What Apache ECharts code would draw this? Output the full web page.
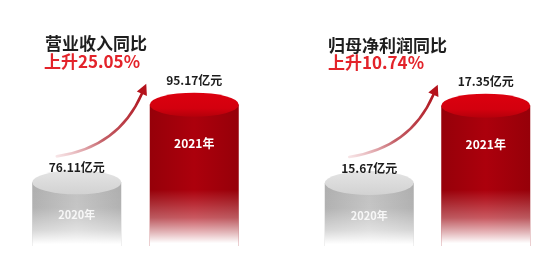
<!DOCTYPE html>
<html>
<head>
<meta charset="utf-8">
<script src="https://cdn.jsdelivr.net/npm/echarts@6/dist/echarts.min.js"></script>
<style>
html,body{margin:0;padding:0;background:#fff;}
#c{width:550px;height:268px;}
</style>
</head>
<body>
<div id="c"></div>
<script>
// ---- data ----
const categories = ['2020年', '2021年'];
const revenue = [76.11, 95.17];          // 营业收入 (亿元)
const netProfit = [15.67, 17.35];        // 归母净利润 (亿元)
const panelTitles = ['营业收入同比', '归母净利润同比'];
const growthTexts = ['上升25.05%', '上升10.74%'];
const unit = '亿元';

// ---- styles ----
const FONT = '"Noto Sans CJK SC", "Noto Sans", sans-serif';
const BW = 89, EH = 24;
const grad = echarts.graphic.LinearGradient;
const bodyColors = [
  new grad(0, 0, 1, 0, [{offset: 0, color: '#aeaeae'}, {offset: 0.5, color: '#c2c2c2'}, {offset: 1, color: '#aeaeae'}]),
  new grad(0, 0, 1, 0, [{offset: 0, color: '#960009'}, {offset: 0.5, color: '#ac000c'}, {offset: 1, color: '#960009'}])
];
const fadeColors = [
  new grad(0, 0, 0, 1, [{offset: 0, color: 'rgba(255,255,255,0)'}, {offset: 0.4, color: 'rgba(255,255,255,0.05)'}, {offset: 0.75, color: 'rgba(255,255,255,0.5)'}, {offset: 0.97, color: 'rgba(255,255,255,1)'}, {offset: 1, color: '#fff'}]),
  new grad(0, 0, 0, 1, [{offset: 0, color: 'rgba(255,255,255,0)'}, {offset: 0.6, color: 'rgba(255,255,255,0)'}, {offset: 0.8, color: 'rgba(255,255,255,0.35)'}, {offset: 0.9, color: 'rgba(255,255,255,0.7)'}, {offset: 0.98, color: '#fff'}, {offset: 1, color: '#fff'}])
];
const topColors = [
  new grad(0, 0, 0, 1, [{offset: 0, color: '#e4e4e4'}, {offset: 1, color: '#d2d2d2'}]),
  new grad(0, 0, 0, 1, [{offset: 0, color: '#dc000f'}, {offset: 0.65, color: '#d3000e'}, {offset: 1, color: '#b5000b'}])
];
const valueLabelDist = [-3, 6];
const yearLabelColor = ['rgba(255,255,255,0.85)', '#ffffff'];

const panels = [revenue, netProfit];
const yRange = [[60.5, 100], [14.3, 17.8]];

const chart = echarts.init(document.getElementById('c'));

function panelSeries(vals, g) {
  return [
    {
      type: 'bar', xAxisIndex: g, yAxisIndex: g, barWidth: BW, z: 2, silent: true,
      data: vals.map((v, i) => ({value: v, itemStyle: {color: bodyColors[i]}}))
    },
    {
      type: 'bar', xAxisIndex: g, yAxisIndex: g, barWidth: BW, barGap: '-100%', z: 3, silent: true,
      data: vals.map((v, i) => ({
        value: v, itemStyle: {color: fadeColors[i]},
        label: {show: true, position: 'insideTop', distance: i === 0 ? 27 : 33, formatter: categories[i],
          color: yearLabelColor[i], fontSize: i === 0 ? 11 : 12, fontWeight: 'bold', fontFamily: FONT}
      }))
    },
    {
      type: 'pictorialBar', xAxisIndex: g, yAxisIndex: g, symbol: 'circle', symbolSize: [BW, EH],
      symbolPosition: 'end', symbolOffset: [0, '-50%'], z: 4, silent: true,
      data: vals.map((v, i) => ({
        value: v, itemStyle: {color: topColors[i]},
        label: {show: true, position: 'top', distance: valueLabelDist[i], formatter: v.toFixed(2) + unit,
          color: '#1c1c1c', fontSize: 12, fontWeight: 'bold', fontFamily: FONT}
      }))
    }
  ];
}

const titleStyle = (c) => ({fontSize: 17, fontWeight: 'bold', color: c, fontFamily: FONT, lineHeight: 20});

chart.setOption({
  animation: false,
  backgroundColor: '#ffffff',
  title: [
    {text: panelTitles[0], left: 45, top: 34, padding: 0, textStyle: titleStyle('#1e1e1e')},
    {text: growthTexts[0], left: 44, top: 52, padding: 0, textStyle: titleStyle('#e3232a')},
    {text: panelTitles[1], left: 328, top: 36, padding: 0, textStyle: titleStyle('#1e1e1e')},
    {text: growthTexts[1], left: 328, top: 53, padding: 0, textStyle: titleStyle('#e3232a')}
  ],
  grid: [
    {left: 18, width: 235, top: 85, bottom: 22},
    {left: 311, width: 233, top: 85, bottom: 22}
  ],
  xAxis: [0, 1].map(g => ({type: 'category', gridIndex: g, data: categories, show: false})),
  yAxis: [0, 1].map(g => ({type: 'value', gridIndex: g, min: yRange[g][0], max: yRange[g][1], show: false})),
  series: [].concat(panelSeries(panels[0], 0), panelSeries(panels[1], 1))
});

// growth arrows, anchored to the cylinders via the axes
const graphics = [];
panels.forEach((vals, g) => {
  const G = chart.convertToPixel({gridIndex: g}, [0, vals[0]]);
  const R = chart.convertToPixel({gridIndex: g}, [1, vals[1]]);
  const S = [G[0] - 20, G[1] - 26];
  const T = [R[0] - 48, R[1] - 21];
  const C = [S[0] + 0.69 * (T[0] - S[0]), S[1] - 9];
  let dx = T[0] - C[0], dy = T[1] - C[1];
  const len = Math.hypot(dx, dy); dx /= len; dy /= len;
  const B = [T[0] - dx * 11, T[1] - dy * 11];
  const nx = -dy, ny = dx;
  graphics.push({
    type: 'bezierCurve', silent: true, z: 10,
    shape: {x1: S[0], y1: S[1], x2: B[0], y2: B[1], cpx1: C[0], cpy1: C[1]},
    style: {fill: null, lineWidth: 2.6, lineCap: 'round',
      stroke: new grad(0, 1, 1, 0, [{offset: 0, color: 'rgba(215,120,130,0.15)'}, {offset: 0.45, color: 'rgba(175,40,50,0.75)'}, {offset: 1, color: '#b0101a'}])}
  });
  graphics.push({
    type: 'polygon', silent: true, z: 10,
    shape: {points: [T, [B[0] + nx * 5.5, B[1] + ny * 5.5], [B[0] - nx * 5.5, B[1] - ny * 5.5]]},
    style: {fill: '#b5121b'}
  });
});
chart.setOption({graphic: graphics});
</script>
</body>
</html>
